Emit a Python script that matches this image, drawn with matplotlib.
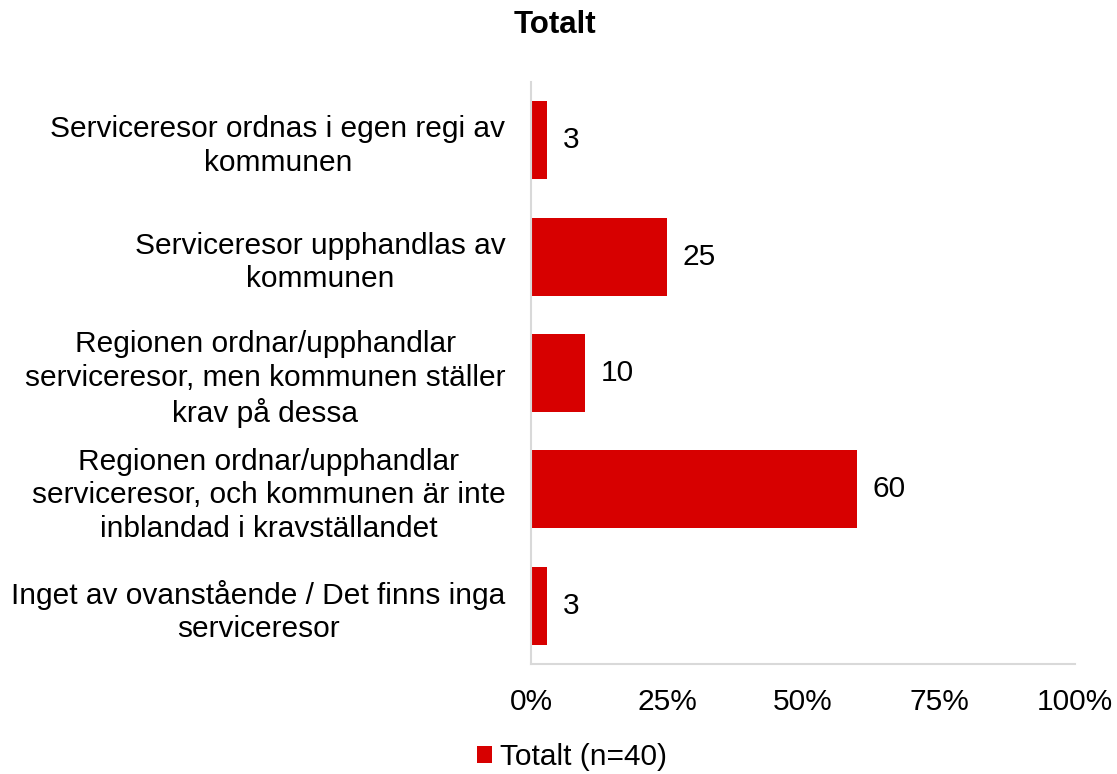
import matplotlib.pyplot as plt
import numpy as np

plt.rcParams['font.family'] = ['Liberation Sans', 'DejaVu Sans']

categories = [
    "Serviceresor ordnas i egen regi av\nkommunen",
    "Serviceresor upphandlas av\nkommunen",
    "Regionen ordnar/upphandlar\nserviceresor, men kommunen ställer\nkrav på dessa",
    "Regionen ordnar/upphandlar\nserviceresor, och kommunen är inte\ninblandad i kravställandet",
    "Inget av ovanstående / Det finns inga\nserviceresor",
]
values = [3, 25, 10, 60, 3]
xticks = [0, 25, 50, 75, 100]
series_name = "Totalt (n=40)"

red = '#D70000'
grey = '#D9D9D9'
fs = 21.5

fig = plt.figure(figsize=(11.17, 7.74), dpi=100)
ax = fig.add_axes([531 / 1117, 1 - 664 / 774, 544 / 1117, 582 / 774])

y = np.arange(len(categories))
bars = ax.barh(y, values, height=0.67, color=red, label=series_name)
for b, v in zip(bars, values):
    ax.annotate(str(v), (b.get_width(), b.get_y() + b.get_height() / 2),
                xytext=(11, 0), textcoords='offset points',
                ha='left', va='center', fontsize=fs)

ax.set_xlim(0, 100)
ax.set_ylim(len(categories) - 0.5, -0.5)
ax.set_yticks(y)
ax.set_yticklabels(categories, fontsize=fs, linespacing=1.25,
                   ha='right', multialignment='center')
ax.set_xticks(xticks)
ax.set_xticklabels([f"{t}%" for t in xticks], fontsize=fs)
ax.tick_params(axis='both', length=0)
ax.tick_params(axis='y', pad=18.5)
ax.tick_params(axis='x', pad=17.5)

for s in ['top', 'right']:
    ax.spines[s].set_visible(False)
for s in ['left', 'bottom']:
    ax.spines[s].set_color(grey)
    ax.spines[s].set_linewidth(1.5)

fig.suptitle("Totalt", x=555 / 1117, y=1 - 25 / 774, va='center',
             fontsize=22.5, fontweight='bold')

fig.legend(loc='center', bbox_to_anchor=(572 / 1117, 1 - 757 / 774),
           frameon=False, fontsize=fs, handlelength=0.5, handleheight=0.5,
           handletextpad=0.27)

fig.savefig('out.png', dpi=100)
